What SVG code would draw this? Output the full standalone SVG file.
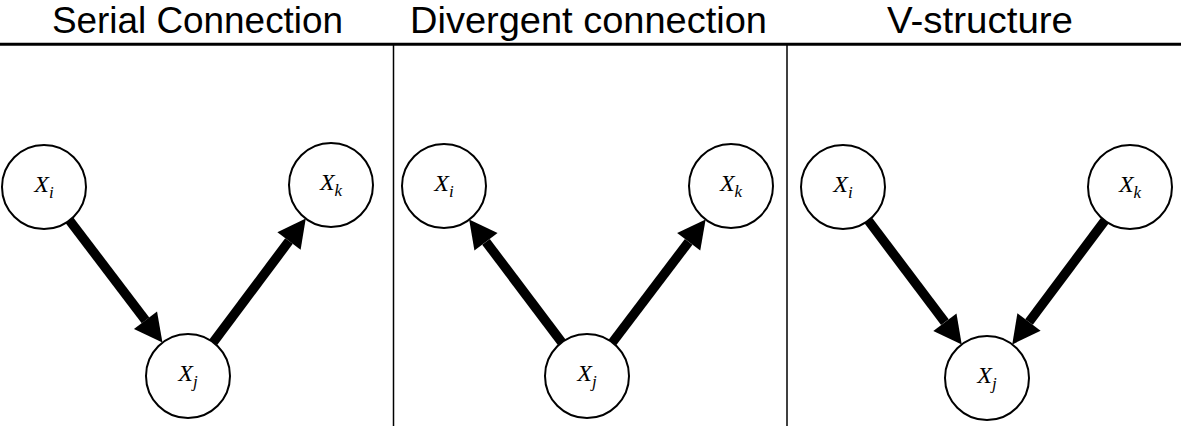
<svg xmlns="http://www.w3.org/2000/svg" width="1181" height="426" viewBox="0 0 1181 426">
<style>
.title{font-family:"Liberation Sans","Open Sans",sans-serif;font-size:36px;fill:#000;text-anchor:middle}
.node circle{fill:#fff;stroke:#000;stroke-width:2}
.node text{font-family:"Liberation Serif","DejaVu Serif",serif;font-style:italic;font-size:24px;fill:#000;text-anchor:middle}
.sub{font-size:17px}
.edge{stroke:#000;stroke-width:9.5;fill:none;marker-end:url(#ah)}
.rule{stroke:#000}
</style>
<defs>
<marker id="ah" markerUnits="userSpaceOnUse" markerWidth="30" markerHeight="30" viewBox="0 -15 30 30" refX="0" refY="0" orient="auto" overflow="visible">
<path d="M0,-14.5 L28,0 L0,14.5 Z" fill="#000"/>
</marker>
</defs>
<rect width="1181" height="426" fill="#fff"/>
<g id="frame">
<line class="rule" x1="0" y1="44.2" x2="1181" y2="44.2" stroke-width="3"/>
<line class="rule" x1="393.5" y1="44" x2="393.5" y2="426" stroke-width="1.5"/>
<line class="rule" x1="787" y1="44" x2="787" y2="426" stroke-width="1.5"/>
</g>
<g id="titles">
<text class="title" x="197.5" y="33" textLength="291" lengthAdjust="spacingAndGlyphs">Serial Connection</text>
<text class="title" x="588.5" y="33" textLength="357" lengthAdjust="spacingAndGlyphs">Divergent connection</text>
<text class="title" x="980" y="33" textLength="186" lengthAdjust="spacingAndGlyphs">V-structure</text>
</g>
<g id="connectors">
<line class="edge" x1="69.5" y1="220.4" x2="145.5" y2="320.3"/>
<line class="edge" x1="213.2" y1="342.4" x2="289.0" y2="241.0"/>
<line class="edge" x1="561.8" y1="342.4" x2="486.0" y2="241.8"/>
<line class="edge" x1="612.4" y1="342.5" x2="688.7" y2="241.8"/>
<line class="edge" x1="868.3" y1="220.5" x2="944.9" y2="322.2"/>
<line class="edge" x1="1104.8" y1="220.6" x2="1029.0" y2="322.0"/>
</g>
<g id="serial-xi" class="node"><circle cx="44" cy="187" r="42"/><text x="44" y="192">X<tspan class="sub" dy="6">i</tspan></text></g>
<g id="serial-xj" class="node"><circle cx="188" cy="376" r="42"/><text x="188" y="381">X<tspan class="sub" dy="6">j</tspan></text></g>
<g id="serial-xk" class="node"><circle cx="331" cy="185" r="42"/><text x="331" y="190">X<tspan class="sub" dy="6">k</tspan></text></g>
<g id="div-xi" class="node"><circle cx="444" cy="186" r="42"/><text x="444" y="191">X<tspan class="sub" dy="6">i</tspan></text></g>
<g id="div-xj" class="node"><circle cx="587" cy="376" r="42"/><text x="587" y="381">X<tspan class="sub" dy="6">j</tspan></text></g>
<g id="div-xk" class="node"><circle cx="731" cy="186" r="42"/><text x="731" y="191">X<tspan class="sub" dy="6">k</tspan></text></g>
<g id="v-xi" class="node"><circle cx="843" cy="187" r="42"/><text x="843" y="192">X<tspan class="sub" dy="6">i</tspan></text></g>
<g id="v-xk" class="node"><circle cx="1130" cy="187" r="42"/><text x="1130" y="192">X<tspan class="sub" dy="6">k</tspan></text></g>
<g id="v-xj" class="node"><circle cx="987" cy="378" r="42"/><text x="987" y="383">X<tspan class="sub" dy="6">j</tspan></text></g>
</svg>
